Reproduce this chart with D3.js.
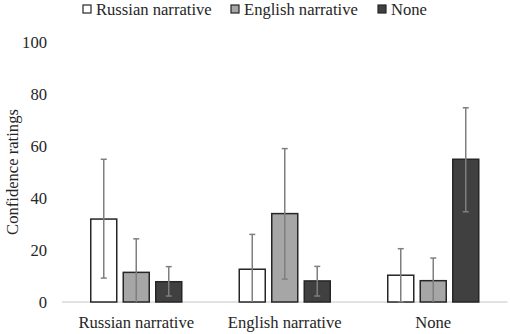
<!DOCTYPE html>
<html><head><meta charset="utf-8">
<script src="https://cdn.jsdelivr.net/npm/d3@7"></script>
<style>body{margin:0;background:#fff}svg{display:block}</style>
</head><body><svg id="c" width="510" height="334"></svg>
<script>
const categories = ["Russian narrative", "English narrative", "None"];
const seriesNames = ["Russian narrative", "English narrative", "None"];
const means = [
  [31.9, 11.4, 7.8],
  [12.6, 34.0, 8.1],
  [10.3, 8.2, 54.9]
];
const errLow = [
  [9.2, -1, 2.3],
  [-1, 8.8, 2.3],
  [0.1, -1, 34.7]
];
const errHigh = [
  [54.9, 24.3, 13.6],
  [26.0, 59.0, 13.7],
  [20.5, 16.9, 74.7]
];
const yTicks = [0, 20, 40, 60, 80, 100];
const colors = ["#ffffff", "#a6a6a6", "#404040"];

const FONT = "'Liberation Serif', 'Times New Roman', Times, serif";
const svg = d3.select("#c").attr("font-family", FONT).attr("fill", "#262626");
const m = {l: 62, r: 2.5, t: 42, b: 32};
const W = 510, H = 334;
const FS = 16.6;
const x0 = d3.scaleBand().domain(categories).range([m.l, W - m.r]).paddingInner(0).paddingOuter(0);
const y = d3.scaleLinear().domain([0, 100]).range([H - m.b, m.t]);
const bw = 26, gap = 6.5;

svg.append("line").attr("x1", m.l).attr("x2", W - m.r).attr("y1", y(0)).attr("y2", y(0))
  .attr("stroke", "#d9d9d9").attr("stroke-width", 1.5);

svg.selectAll(".yt").data(yTicks).join("text")
  .attr("font-family", FONT)
  .attr("x", 47).attr("y", d => y(d)).attr("dy", "0.35em")
  .attr("text-anchor", "end").attr("font-size", FS).text(d => d);

svg.append("text").attr("font-family", FONT).attr("transform", `translate(12,${(y(0)+y(100))/2}) rotate(-90)`)
  .attr("text-anchor", "middle").attr("font-size", FS).attr("dy", "0.35em").text("Confidence ratings");

svg.selectAll(".xl").data(categories).join("text")
  .attr("font-family", FONT)
  .attr("x", d => x0(d) + x0.bandwidth()/2).attr("y", 322).attr("dy", "0.35em")
  .attr("text-anchor", "middle").attr("font-size", FS).text(d => d);

const bx = (ci, si) => x0(categories[ci]) + x0.bandwidth()/2 + (si - 1) * (bw + gap) - bw/2;

categories.forEach((c, ci) => {
  seriesNames.forEach((s, si) => {
    const v = means[ci][si];
    const xl = bx(ci, si);
    svg.append("rect").attr("x", xl).attr("y", y(v)).attr("width", bw).attr("height", y(0) - y(v))
      .attr("fill", colors[si]).attr("stroke", "#262626").attr("stroke-width", 1.5);
  });
});
categories.forEach((c, ci) => {
  seriesNames.forEach((s, si) => {
    const cx = bx(ci, si) + bw/2;
    const lo = errLow[ci][si], hi = errHigh[ci][si];
    const g = svg.append("g").attr("stroke", "#7f7f7f").attr("stroke-width", 1.5);
    g.append("line").attr("x1", cx).attr("x2", cx).attr("y1", y(Math.max(lo, 0))).attr("y2", y(hi));
    g.append("line").attr("x1", cx - 3).attr("x2", cx + 3).attr("y1", y(hi)).attr("y2", y(hi));
    if (lo >= 0) g.append("line").attr("x1", cx - 3).attr("x2", cx + 3).attr("y1", y(lo)).attr("y2", y(lo));
  });
});

const legX = [83, 231, 378];
seriesNames.forEach((s, si) => {
  svg.append("rect").attr("x", legX[si]).attr("y", 5).attr("width", 8).attr("height", 8)
    .attr("fill", colors[si]).attr("stroke", "#262626").attr("stroke-width", 1.2);
  svg.append("text").attr("font-family", FONT).attr("x", legX[si] + 13).attr("y", 9).attr("dy", "0.35em")
    .attr("font-size", FS).text(s);
});
</script></body></html>
